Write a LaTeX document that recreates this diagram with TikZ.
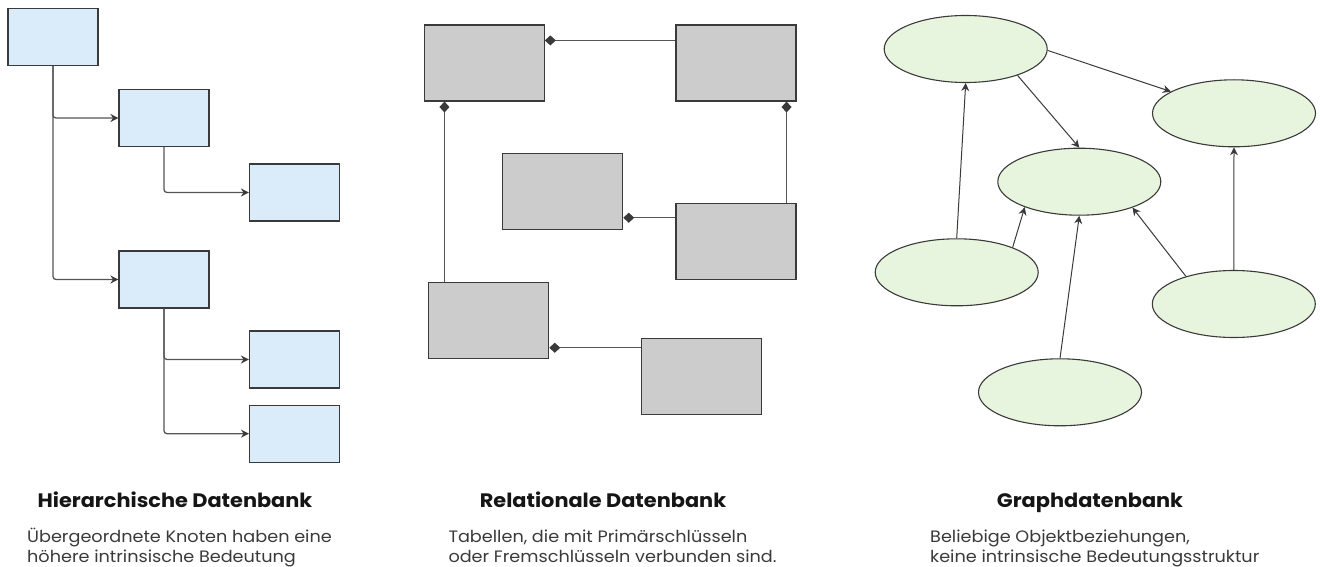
\documentclass[tikz,border=0pt]{standalone}
\usepackage{fontspec}
\setmainfont{Poppins}[FakeStretch=1.07]
\usetikzlibrary{arrows.meta,shapes.geometric,calc}
\definecolor{hfill}{HTML}{DAEBF9}
\definecolor{rfill}{HTML}{CCCCCC}
\definecolor{gfill}{HTML}{E8F5DE}
\definecolor{edge}{HTML}{3A3A3A}
\definecolor{line}{HTML}{555555}
\definecolor{titlecol}{HTML}{151515}
\definecolor{desccol}{HTML}{3A3A3A}
\begin{document}
\begin{tikzpicture}[x=1pt,y=-1pt,
  hbox/.style={draw=edge,line width=1.1pt,fill=hfill,minimum width=90pt,minimum height=57pt,inner sep=0pt},
  rbox/.style={draw=edge,line width=1.1pt,fill=rfill,minimum width=120pt,minimum height=76pt,inner sep=0pt},
  gnode/.style={ellipse,draw=edge,line width=1.1pt,fill=gfill,minimum width=163pt,minimum height=67pt,inner sep=0pt},
  harrow/.style={draw=line,line width=1.3pt,rounded corners=3pt,-{Stealth[length=8pt,width=8pt,color=edge]}},
  rlink/.style={draw=line,line width=1.1pt,{Diamond[length=11pt,width=10pt,color=edge]}-},
  garrow/.style={draw=edge,line width=1pt,-{Stealth[length=8pt,width=8pt]}},
  title/.style={anchor=base,font=\bfseries\fontsize{19.5}{23}\selectfont,text=titlecol,inner sep=0pt},
  desc/.style={anchor=base west,align=left,font=\fontsize{16.5}{20}\selectfont,text=desccol,inner sep=0pt}
]
\useasboundingbox (0,0) rectangle (1320,567);

% hierarchical database
\node[hbox] (h1) at (53,37) {};
\node[hbox] (h2) at (164,118) {};
\node[hbox] (h3) at (294.5,192.5) {};
\node[hbox] (h4) at (164,279.5) {};
\node[hbox] (h5) at (294.5,359.5) {};
\node[hbox] (h6) at (294.5,433.7) {};
\draw[harrow] (h1.south) |- (h2.west);
\draw[harrow] (h1.south) |- (h4.west);
\draw[harrow] (h2.south) |- (h3.west);
\draw[harrow] (h4.south) |- (h5.west);
\draw[harrow] (h4.south) |- (h6.west);

% relational database
\node[rbox] (r1) at (484.3,63) {};
\node[rbox] (r2) at (736,63) {};
\node[rbox] (r3) at (562.7,191.7) {};
\node[rbox] (r4) at (736,241.3) {};
\node[rbox] (r5) at (488.7,320.3) {};
\node[rbox] (r6) at (701.8,376.3) {};
\draw[rlink] ([yshift=-16pt]r1.north east) -- ([yshift=-16pt]r2.north west);
\draw[rlink] ([xshift=20.7pt]r1.south west) -- ([xshift=20.7pt]r1.south west |- r5.north);
\draw[rlink] ([xshift=-10pt]r2.south east) -- ([xshift=-10pt]r2.south east |- r4.north);
\draw[rlink] ([yshift=-15pt]r4.north west -| r3.east) -- ([yshift=-15pt]r4.north west);
\draw[rlink] ([yshift=-10pt]r6.north west -| r5.east) -- ([yshift=-10pt]r6.north west);

% graph database
\node[gnode] (g1) at (965.7,49) {};
\node[gnode] (g2) at (1234,113.3) {};
\node[gnode] (g3) at (1079.3,181.7) {};
\node[gnode] (g4) at (956.7,272.3) {};
\node[gnode] (g5) at (1233.8,304) {};
\node[gnode] (g6) at (1060,392.3) {};
\draw[garrow] (g1.-1) -- (g2.161.7);
\draw[garrow] (g1.-27.2) -- (g3.north);
\draw[garrow] (g4.north) -- (g1.south);
\draw[garrow] (g4.24.4) -- (g3.-155.7);
\draw[garrow] (g6.north) -- (g3.south);
\draw[garrow] (g5.150.7) -- (g3.-26);
\draw[garrow] (g5.north) -- (g2.south);

% captions (a multi-line node sits on the baseline of its last line)
\node[title] (t1) at (175,507.7) {Hierarchische Datenbank};
\node[desc] (d1) at (27,562.3) {Übergeordnete Knoten haben eine\\höhere intrinsische Bedeutung};
\node[title] (t2) at (603,507.7) {Relationale Datenbank};
\node[desc] (d2) at (448.3,562.3) {Tabellen, die mit Primärschlüsseln\\oder Fremschlüsseln verbunden sind.};
\node[title] (t3) at (1090,507.7) {Graphdatenbank};
\node[desc] (d3) at (930,562.3) {Beliebige Objektbeziehungen,\\keine intrinsische Bedeutungsstruktur};
\end{tikzpicture}
\end{document}
